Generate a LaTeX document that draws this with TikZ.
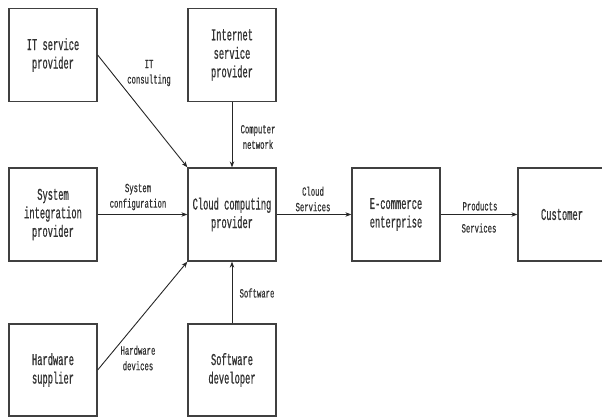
\documentclass[tikz,border=0pt]{standalone}
\usepackage{fontspec}
\usetikzlibrary{arrows.meta}
\newfontfamily\boxfont[FakeStretch=0.53,FakeBold=0.6]{Liberation Mono}
\newfontfamily\labfont[FakeStretch=0.58,FakeBold=0.5]{Liberation Mono}
\begin{document}
\begin{tikzpicture}[x=1pt,y=-1pt,
  block/.style={draw=black!75, line width=1.3pt, minimum width=88pt, minimum height=93pt,
    inner sep=0pt, align=center, font=\boxfont\fontsize{16.5}{18.5}\selectfont, text=black!80},
  lowblock/.style={block, minimum height=92pt},
  lab/.style={align=center, inner sep=0pt, font=\labfont\fontsize{12.5}{15.5}\selectfont, text=black!80},
  flow/.style={draw=black!85, line width=0.9pt, -{Stealth[length=6pt,width=4.5pt]}}]
  \useasboundingbox (0,0) rectangle (602,417);
  \clip (0,0) rectangle (602,417);

  % suppliers and the cloud provider
  \node[block] (its)  at (53,55)    {IT service\\provider};
  \node[block] (isp)  at (232,55)   {Internet\\service\\provider};
  \node[block] (sip)  at (53,214.5) {System\\integration\\provider};
  \node[block] (ccp)  at (232,214.5){Cloud computing\\provider};
  \node[lowblock] (hws) at (53,370)  {Hardware\\supplier};
  \node[lowblock] (swd) at (232,370) {Software\\developer};

  % downstream chain
  \node[block] (ece)  at (396,214.5){E-commerce\\enterprise};
  \node[block] (cus)  at (562,214.5){Customer};

  % connectors
  \draw[flow] (its.east) -- (ccp.north west);
  \draw[flow] (isp.south) -- (ccp.north);
  \draw[flow] (sip.east) -- (ccp.west);
  \draw[flow] (hws.east) -- (ccp.south west);
  \draw[flow] (swd.north) -- (ccp.south);
  \draw[flow] (ccp.east) -- (ece.west);
  \draw[flow] (ece.east) -- (cus.west);

  % connector labels
  \node[lab] (l1) at (149,73)  {IT\\consulting};
  \node[lab] (l2) at (258,137) {Computer\\network};
  \node[lab] (l3) at (138,197) {System\\configuration};
  \node[lab] (l4) at (313,199) {Cloud\\Services};
  \node[lab] (l5) at (480,206) {Products};
  \node[lab] (l6) at (479,228) {Services};
  \node[lab] (l7) at (257,293) {Software};
  \node[lab] (l8) at (138,358) {Hardware\\devices};
\end{tikzpicture}
\end{document}
